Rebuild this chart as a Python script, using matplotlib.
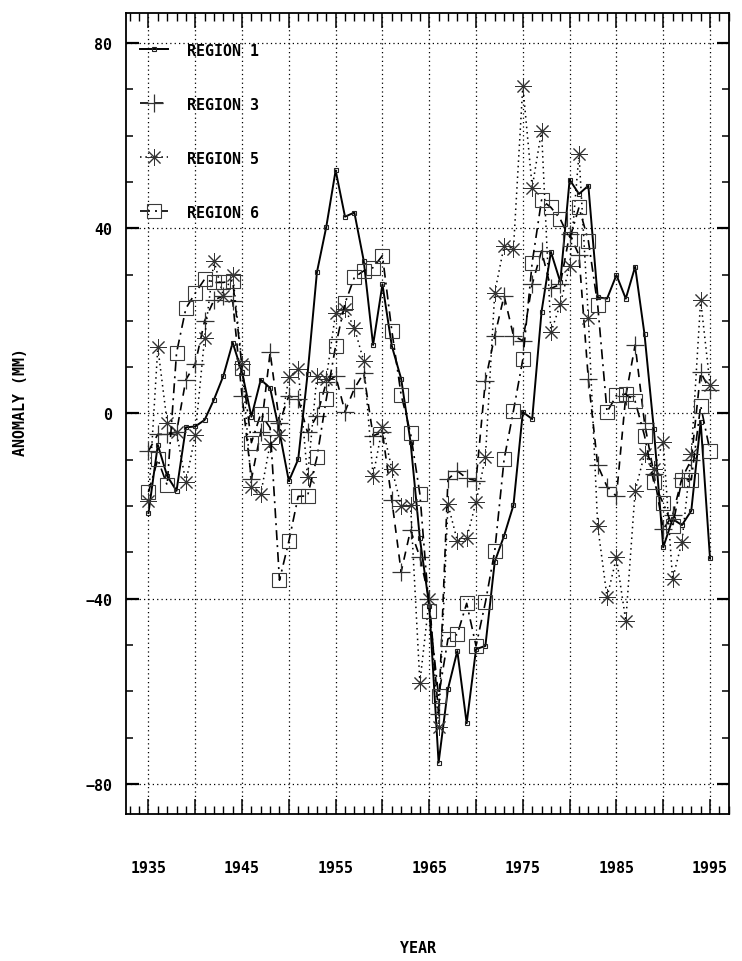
import numpy as np
import matplotlib
matplotlib.use('Agg')
import matplotlib.pyplot as plt
from matplotlib.ticker import MultipleLocator, FixedLocator

# anomaly (mm) per region
years = np.arange(1935, 1996)

region1 = [-21.5, -6.8, -13.5, -16.7, -3.0, -2.8, -1.4, 3.0, 8.1, 15.3,
           8.9, -0.7, 7.3, 5.5, -4.0, -14.6, -9.9, 8.5, 30.5, 40.3,
           52.5, 42.5, 43.4, 33.0, 14.8, 27.9, 14.6, 7.5, -6.1, -27.0,
           -41.5, -75.4, -59.5, -51.3, -66.9, -50.9, -50.2, -32.0, -26.4, -19.8,
           0.3, -1.2, 22.0, 34.9, 28.4, 50.5, 47.4, 49.2, 25.1, 24.8,
           29.9, 24.8, 31.7, 17.1, -3.4, -28.9, -22.8, -24.1, -21.0, -1.8,
           -31.3]

region3 = [-8.1, -4.5, -4.5, -4.0, 7.3, 10.7, 20.0, 24.5, 25.4, 24.3,
           3.8, -14.2, -4.0, 13.2, -2.0, 3.8, 3.1, -4.1, -0.5, 6.7,
           8.1, 0.4, 5.4, 8.7, -4.8, -4.1, -18.7, -34.2, -25.2, -31.0,
           -40.1, -65.0, -14.2, -12.4, -14.0, -14.5, 7.1, 16.8, 25.4, 16.8,
           15.7, 27.9, 35.1, 27.0, 27.9, 38.7, 34.2, 7.4, -11.2, -15.8,
           -17.9, 3.8, 14.8, -2.0, -13.0, -25.0, -22.0, -14.0, -10.0, 8.9,
           5.0]

region5 = [-19.0, 14.3, -2.0, -4.1, -14.9, -4.6, 16.4, 33.0, 25.4, 30.0,
           10.7, -15.8, -17.4, -6.5, -4.6, 7.8, 9.5, -13.7, 8.1, 7.5,
           21.8, 22.5, 18.5, 11.3, -13.5, -2.9, -11.9, -20.0, -19.7, -58.1,
           -40.1, -67.8, -19.6, -27.5, -27.0, -19.1, -9.5, 26.1, 36.2, 35.6,
           70.8, 48.8, 61.1, 17.5, 23.6, 31.9, 56.0, 20.7, -24.3, -39.7,
           -31.1, -44.8, -16.7, -8.8, -12.0, -6.1, -35.8, -27.7, -8.8, 24.5,
           6.2]

region6 = [-17.0, -9.9, -15.5, 13.1, 22.7, 26.0, 29.0, 28.3, 28.3, 28.7,
           9.9, -6.3, -0.1, -3.1, -36.0, -27.6, -17.9, -17.8, -9.5, 3.1,
           14.6, 23.8, 29.4, 30.8, 31.5, 34.1, 17.9, 4.0, -4.2, -17.4,
           -42.6, -61.1, -48.7, -47.7, -41.0, -50.2, -40.8, -29.7, -9.9, 0.6,
           11.7, 32.6, 46.1, 44.5, 42.0, 37.7, 44.5, 37.3, 23.4, 0.3,
           3.9, 4.2, 2.6, -4.8, -14.9, -19.4, -24.3, -14.3, -14.3, 1.7,
           -8.1]

year_labels = ['1935', '', '1945', '', '1955', '', '1965', '', '1975', '', '1985', '', '1995']

font = 'DejaVu Sans Mono'
Font_Size = 10.8

fig = plt.figure(figsize=(7.42, 9.62), dpi=100)
ax = fig.add_axes([0.1698, 0.1528, 0.8127, 0.8327])

ax.plot(years, region1, '-', color='black', linewidth=1.4, marker='s',
        markersize=3, markerfacecolor='none', markeredgecolor='#222222',
        markeredgewidth=0.8, label='REGION 1')
ax.plot(years, region3, color='black', linewidth=1.2, dashes=(5, 4),
        marker='+', markersize=13, markeredgewidth=0.9, markeredgecolor='#333333',
        label='REGION 3')
ax.plot(years, region5, color='black', linewidth=1.1, dashes=(1, 2.5),
        marker=(8, 2, 0), markersize=12, markeredgewidth=0.7, markeredgecolor='#333333',
        label='REGION 5')
ax.plot(years, region6, color='black', linewidth=1.2, dashes=(6, 3, 1.2, 3),
        marker='s', markersize=10, markerfacecolor='none', markeredgewidth=0.8,
        markeredgecolor='#3a3a3a', label='REGION 6')

ax.set_xlim(1932.6, 1997.03)
ax.set_ylim(-86.5, 86.5)

ax.xaxis.set_major_locator(FixedLocator(range(1935, 2000, 5)))
ax.set_xticklabels(year_labels, fontfamily=font, fontweight='bold', fontsize=Font_Size)
ax.xaxis.set_minor_locator(MultipleLocator(1))
ax.yaxis.set_major_locator(FixedLocator([-80, -40, 0, 40, 80]))
ax.yaxis.set_minor_locator(MultipleLocator(10))
for lab in ax.get_yticklabels():
    lab.set_fontfamily(font)
    lab.set_fontweight('bold')
    lab.set_fontsize(Font_Size)

ax.tick_params(axis='x', which='major', direction='in', top=True, bottom=True,
               length=11, width=1.1, pad=33)
ax.tick_params(axis='x', which='minor', direction='in', top=True, bottom=True,
               length=6, width=1.0)
ax.tick_params(axis='y', which='major', direction='in', left=True, right=True,
               length=9, width=1.6, pad=10)
ax.tick_params(axis='y', which='minor', direction='in', left=True, right=True,
               length=5, width=1.1)

ax.grid(True, which='major', linestyle=(0, (1, 2.5)), color='black', linewidth=0.9)
for s in ax.spines.values():
    s.set_linewidth(1.3)

ax.legend(loc='upper left', bbox_to_anchor=(0.023, 0.963), borderaxespad=0,
          frameon=False, labelspacing=2.6, handlelength=1.87, handletextpad=1.3,
          borderpad=0, prop={'family': font, 'weight': 'bold', 'size': Font_Size})

fig.text(21 / 742, 1 - 402 / 962, 'ANOMALY (MM)', rotation=90, ha='center', va='center',
         fontfamily=font, fontweight='bold', fontsize=Font_Size)
fig.text(418 / 742, 1 - 949 / 962, 'YEAR', ha='center', va='center',
         fontfamily=font, fontweight='bold', fontsize=Font_Size)

plt.savefig('out.png', dpi=100)
